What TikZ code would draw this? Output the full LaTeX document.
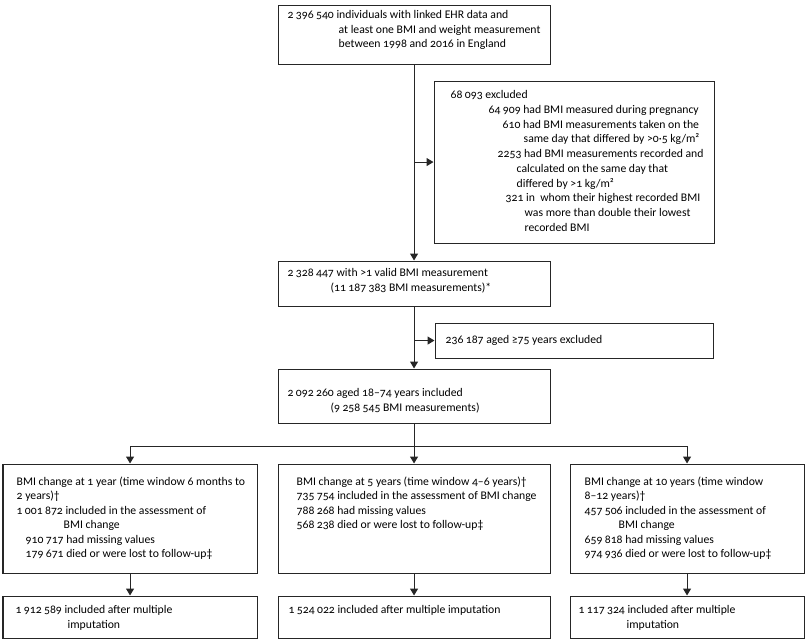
\documentclass[tikz,border=0pt]{standalone}
\usepackage{fontspec}
\setmainfont{Carlito}[Numbers=OldStyle]
\usetikzlibrary{arrows.meta}
\newcommand{\gs}{\kern0.2em}
\begin{document}
\begin{tikzpicture}[x=1pt,y=-1pt,
  box/.style={draw=black!85, line width=1.1pt, inner sep=0pt, anchor=north west},
  txt/.style={anchor=north west, inner sep=0pt, align=left, font=\fontsize{11.7}{14.5}\selectfont},
  arr/.style={line width=1.1pt, draw=black!85, -{Triangle[length=7pt,width=8pt]}},
  ln/.style={line width=1.1pt, draw=black!85}]
\useasboundingbox (-0.5,-0.5) rectangle (804.5,639.5);
% boxes
\node[box, minimum width=272pt, minimum height=59pt]  (A)  at (277,4)   {};
\node[box, minimum width=280pt, minimum height=162pt] (B)  at (433,80)  {};
\node[box, minimum width=272pt, minimum height=45pt]  (C)  at (277,260) {};
\node[box, minimum width=278pt, minimum height=35pt]  (D)  at (434,322) {};
\node[box, minimum width=272pt, minimum height=54pt]  (E)  at (277,368) {};
\node[box, minimum width=254pt, minimum height=109pt] (F1) at (2,463)   {};
\node[box, minimum width=272pt, minimum height=109pt] (F2) at (277,463) {};
\node[box, minimum width=234pt, minimum height=109pt] (F3) at (569,463) {};
\node[box, minimum width=254pt, minimum height=42pt]  (G1) at (2,595)   {};
\node[box, minimum width=272pt, minimum height=42pt]  (G2) at (277,595) {};
\node[box, minimum width=234pt, minimum height=42pt]  (G3) at (569,595) {};
% texts
\node[txt] (At) at (287,10) {2\gs396\gs540 individuals with linked EHR data and\\
\hspace*{51pt}at least one BMI and weight measurement\\
\hspace*{51pt}between 1998 and 2016 in England};
\node[txt, font=\fontsize{11.7}{14.7}\selectfont] (Bt) at (450,90) {68\gs093 excluded\\
\hspace*{38pt}64\gs909 had BMI measured during pregnancy\\
\hspace*{52pt}610 had BMI measurements taken on the\\
\hspace*{73pt}same day that differed by >0·5 kg/m²\\
\hspace*{47pt}2253 had BMI measurements recorded and\\
\hspace*{66pt}calculated on the same day that\\
\hspace*{66pt}differed by >1 kg/m²\\
\hspace*{55pt}321 in \ whom their highest recorded BMI\\
\hspace*{74pt}was more than double their lowest\\
\hspace*{74pt}recorded BMI};
\node[txt] (Ct) at (287,268) {2\gs328\gs447 with >1 valid BMI measurement\\
\hspace*{43pt}(11\gs187\gs383 BMI measurements)*};
\node[txt] (Dt) at (445,335) {236\gs187 aged ≥75 years excluded};
\node[txt] (Et) at (287,388) {2\gs092\gs260 aged 18–74 years included\\
\hspace*{43pt}(9\gs258\gs545 BMI measurements)};
\node[txt] (F1t) at (16,476) {BMI change at 1 year (time window 6 months to\\
2 years)†\\
1\gs001\gs872 included in the assessment of\\
\hspace*{47pt}BMI change\\
\hspace*{9pt}910\gs717 had missing values\\
\hspace*{9pt}179\gs671 died or were lost to follow-up‡};
\node[txt] (F2t) at (296,476) {BMI change at 5 years (time window 4–6 years)†\\
735\gs754 included in the assessment of BMI change\\
788\gs268 had missing values\\
568\gs238 died or were lost to follow-up‡};
\node[txt] (F3t) at (584,476) {BMI change at 10 years (time window\\
8–12 years)†\\
457\gs506 included in the assessment of\\
\hspace*{34pt}BMI change\\
659\gs818 had missing values\\
974\gs936 died or were lost to follow-up‡};
\node[txt] (G1t) at (15,605) {1\gs912\gs589 included after multiple\\
\hspace*{52pt}imputation};
\node[txt] (G2t) at (288,605) {1\gs524\gs022 included after multiple imputation};
\node[txt] (G3t) at (578,605) {1\gs117\gs324 included after multiple\\
\hspace*{48pt}imputation};
% connectors
\coordinate (hM) at (413,446);
\draw[arr] (A.south) -- (C.north);
\draw[arr] (A.south |- B.west) -- (B.west);
\draw[arr] (C.south) -- (E.north);
\draw[arr] (C.south |- D.west) -- (D.west);
\draw[arr] (E.south) -- (F2.north);
\draw[arr] (hM) -| (F1.north);
\draw[arr] (hM) -| (F3.north);
\draw[arr] (F1.south) -- (G1.north);
\draw[arr] (F2.south) -- (G2.north);
\draw[arr] (F3.south) -- (G3.north);
\end{tikzpicture}
\end{document}
